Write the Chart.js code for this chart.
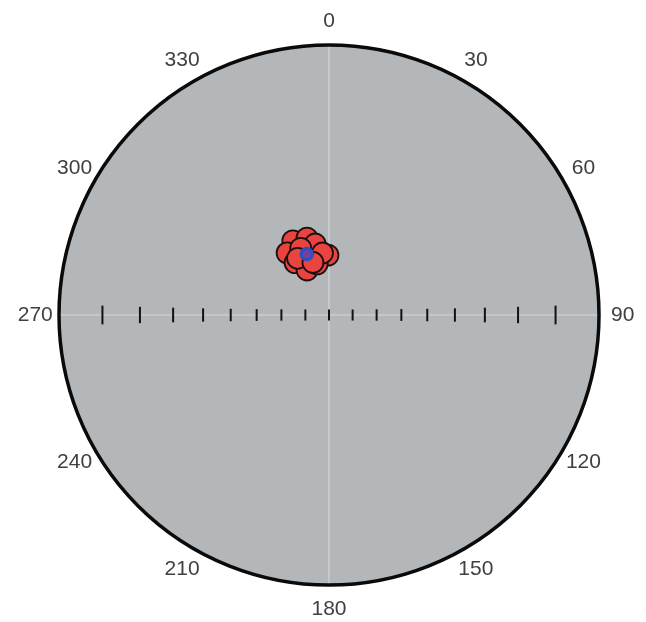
<!DOCTYPE html>
<html>
<head>
<meta charset="utf-8">
<script src="https://cdn.jsdelivr.net/npm/chart.js@4.4.1/dist/chart.umd.min.js"></script>
<style>
  html, body { margin: 0; padding: 0; background: #fff; }
  #wrap { width: 646px; height: 622px; position: relative; }
</style>
</head>
<body>
<div id="wrap"><canvas id="chart"></canvas></div>
<script>
// poles (trend / plunge, degrees)
const poleTrend  = [334, 344, 349, 359, 326, 327, 334, 347, 354, 337, 331, 343];
const polePlunge = [56, 57, 60, 65, 59, 64, 69, 68, 64, 60, 63, 67];

// mean pole
const meanTrend  = [340];
const meanPlunge = [63];

// dip ticks along the E-W diameter
const tickDips = [0, 10, 20, 30, 40, 50, 60, 70, 80];

// azimuth labels round the primitive
const azimuths = [0, 30, 60, 90, 120, 150, 180, 210, 240, 270, 300, 330];

const rad = d => d * Math.PI / 180;

// stereographic (equal-angle) projection, lower hemisphere, unit primitive
function project(trend, plunge) {
    const r = Math.tan(rad(90 - plunge) / 2);
    return { x: r * Math.sin(rad(trend)), y: r * Math.cos(rad(trend)) };
}

const poles = poleTrend.map((t, i) => project(t, polePlunge[i]));
const mean = meanTrend.map((t, i) => project(t, meanPlunge[i]));

const ticks = [];
const tickSizes = [];
tickDips.forEach(d => {
    const r = Math.tan(rad(d) / 2);
    const s = 5.5 / Math.pow(Math.cos(rad(d) / 2), 2);
    ticks.push({ x: r, y: 0 }); tickSizes.push(s);
    if (d > 0) { ticks.push({ x: -r, y: 0 }); tickSizes.push(s); }
});

const netPlugin = {
    id: 'net',
    beforeDatasetsDraw(chart) {
        const { ctx, scales: { x, y } } = chart;
        const cx = x.getPixelForValue(0), cy = y.getPixelForValue(0);
        const R = x.getPixelForValue(1) - cx;
        ctx.save();
        ctx.beginPath();
        ctx.arc(cx, cy, R, 0, Math.PI * 2);
        ctx.fillStyle = '#b4b7b9';
        ctx.fill();
        ctx.strokeStyle = '#d3d5d7';
        ctx.lineWidth = 1.2;
        ctx.beginPath();
        ctx.moveTo(cx, cy - R); ctx.lineTo(cx, cy + R);
        ctx.moveTo(cx - R, cy); ctx.lineTo(cx + R, cy);
        ctx.stroke();
        ctx.beginPath();
        ctx.arc(cx, cy, R, 0, Math.PI * 2);
        ctx.strokeStyle = '#0a0a0a';
        ctx.lineWidth = 3.5;
        ctx.stroke();
        ctx.restore();
    },
    afterDraw(chart) {
        const { ctx, scales: { x, y } } = chart;
        ctx.save();
        ctx.font = '21px "Liberation Sans", Arial, sans-serif';
        ctx.fillStyle = '#404040';
        ctx.textAlign = 'center';
        ctx.textBaseline = 'middle';
        azimuths.forEach(a => {
            const px = x.getPixelForValue(1.088 * Math.sin(rad(a)));
            const py = y.getPixelForValue(1.088 * Math.cos(rad(a)));
            ctx.fillText(String(a), px, py);
        });
        ctx.restore();
    }
};

new Chart(document.getElementById('chart'), {
    type: 'scatter',
    data: {
        datasets: [{
            label: 'mean',
            data: mean,
            order: 0,
            pointRadius: 5.5,
            backgroundColor: '#7a3f9a',
            borderColor: '#2f4fc0',
            borderWidth: 3.5
        }, {
            label: 'poles',
            data: poles,
            order: 1,
            pointRadius: 10.5,
            backgroundColor: '#ea4441',
            borderColor: '#1a1010',
            borderWidth: 1.8
        }, {
            label: 'ticks',
            data: ticks,
            order: 2,
            pointStyle: 'line',
            rotation: 90,
            pointRadius: tickSizes,
            borderColor: '#111',
            borderWidth: 2
        }]
    },
    options: {
        responsive: true,
        maintainAspectRatio: false,
        animation: false,
        clip: false,
        layout: { padding: { left: 59, right: 47, top: 45, bottom: 37 } },
        scales: {
            x: { type: 'linear', min: -1, max: 1, display: false },
            y: { type: 'linear', min: -1, max: 1, display: false }
        },
        plugins: { legend: { display: false }, tooltip: { enabled: false } }
    },
    plugins: [netPlugin]
});
</script>
</body>
</html>
